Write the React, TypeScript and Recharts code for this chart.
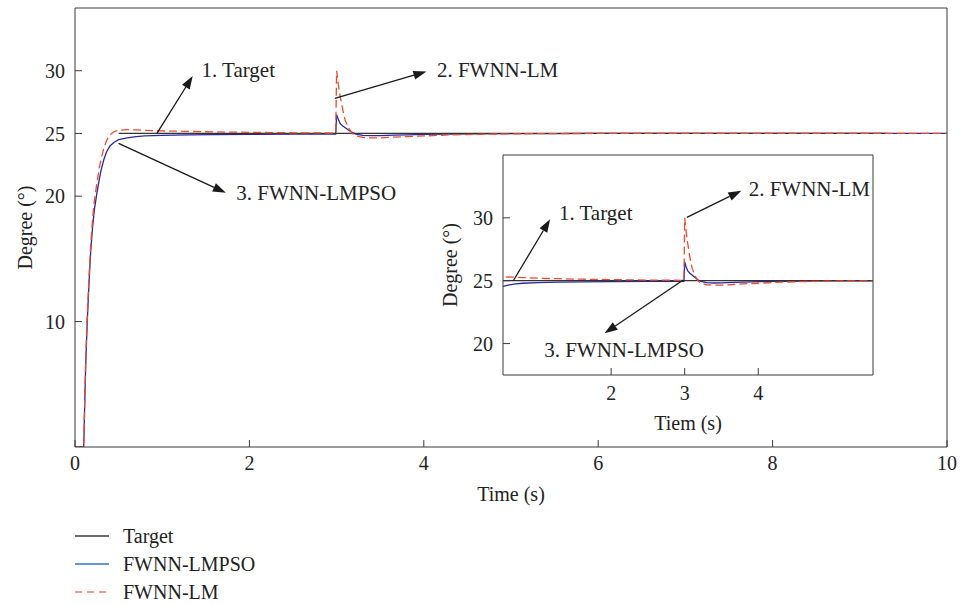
import { LineChart, Line, XAxis, YAxis, ReferenceLine, ReferenceDot } from "recharts";

// time axis (s) and the three responses (degree)
const timeS = [
  0, 0.1, 0.11, 0.12, 0.13, 0.14, 0.16, 0.18, 0.2, 0.22, 0.25, 0.28, 0.3, 0.33, 0.36, 0.4, 0.45,
  0.5, 0.6, 0.7, 0.8, 1.0, 1.3, 1.6, 2.0, 2.5, 2.99, 3.0, 3.02, 3.04, 3.07, 3.1, 3.14, 3.18, 3.22,
  3.3, 3.4, 3.5, 3.65, 3.8, 4.0, 4.3, 4.6, 5.0, 5.5, 6, 7, 8, 9, 9.3, 10,
];
const targetDeg = [
  null, null, null, null, null, null, null, null, null, null, null, null, null, null, null, null, null,
  25, 25, 25, 25, 25, 25, 25, 25, 25, 25, 25, 25, 25, 25, 25, 25, 25, 25,
  25, 25, 25, 25, 25, 25, 25, 25, 25, 25, 25, 25, 25, 25, 25, null,
];
const lmpsoDeg = [
  0, 0, 3, 5.8, 8, 9.9, 13, 15.6, 17.4, 18.8, 20.2, 21.4, 22.1, 22.9, 23.5, 24, 24.3,
  24.5, 24.65, 24.75, 24.8, 24.85, 24.88, 24.9, 24.92, 24.94, 24.95, 26.5, 26.1, 25.8, 25.6, 25.45, 25.25, 25.08, 24.95,
  24.85, 24.82, 24.83, 24.86, 24.89, 24.92, 24.95, 24.97, 24.98, 24.99, 25, 25, 25, 25, 25, 25,
];
const lmDeg = [
  0, 0, 3.2, 6.1, 8.4, 10.3, 13.5, 16.1, 18, 19.5, 21, 22.3, 23, 23.8, 24.4, 24.9, 25.15,
  25.25, 25.3, 25.28, 25.25, 25.2, 25.16, 25.12, 25.09, 25.05, 25.03, 30, 28.9, 28, 26.9, 26, 25.4, 25, 24.8,
  24.68, 24.65, 24.65, 24.7, 24.75, 24.8, 24.88, 24.93, 24.97, 24.99, 25, 25, 25, 25, 25, 25,
];

const mainXTicks = [0, 2, 4, 6, 8, 10];
const mainYTicks = [10, 20, 25, 30];
const insetXTicks = [2, 3, 4];
const insetYTicks = [20, 25, 30];

const data = timeS.map((t, i) => ({ t, target: targetDeg[i], lmpso: lmpsoDeg[i], lm: lmDeg[i] }));

// annotation arrows: [t, deg] pairs
const mainNotes = [
  { text: "1. Target", from: [0.94, 25], to: [1.35, 29.58], at: [1.45, 30.06] },
  { text: "2. FWNN-LM", from: [2.98, 27.8], to: [4.03, 29.93], at: [4.15, 30.06] },
  { text: "3. FWNN-LMPSO", from: [0.5, 24.21], to: [1.73, 20.27], at: [1.85, 20.23] },
];
const insetNotes = [
  { text: "1. Target", from: [0.67, 25], to: [1.17, 29.88], at: [1.29, 30.36] },
  { text: "2. FWNN-LM", from: [3.03, 30.04], to: [3.77, 32.16], at: [3.87, 32.27] },
  { text: "3. FWNN-LMPSO", from: [2.98, 25.06], to: [1.91, 20.82], at: [1.09, 19.49] },
];

const legendItems = [
  { name: "Target", color: "#3a3a3a", dash: undefined },
  { name: "FWNN-LMPSO", color: "#2f74c0", dash: undefined },
  { name: "FWNN-LM", color: "#ef7b66", dash: "7 5" },
];

const AXIS = "#3a3a3a";
const TXT = "#222";
const FONT = "'Liberation Serif', 'Times New Roman', serif";

const arrowShape = (p: any) => {
  const { x1, y1, x2, y2 } = p;
  const a = Math.atan2(y2 - y1, x2 - x1);
  const L = 13;
  const W = 4.5;
  const bx = x2 - L * Math.cos(a);
  const by = y2 - L * Math.sin(a);
  const pts = `${x2},${y2} ${bx + W * Math.sin(a)},${by - W * Math.cos(a)} ${bx - W * Math.sin(a)},${by + W * Math.cos(a)}`;
  return (
    <g>
      <line x1={x1} y1={y1} x2={bx} y2={by} stroke="#1a1a1a" strokeWidth={1.3} />
      <polygon points={pts} fill="#1a1a1a" />
    </g>
  );
};

const noteText = (text: string) => (p: any) => (
  <text x={p.cx} y={p.cy} fontSize={21} fill={TXT} dominantBaseline="central" fontFamily={FONT}>
    {text}
  </text>
);

const yTitle = (dx: number) => ({ viewBox }: any) => {
  const x = viewBox.x + dx;
  const y = viewBox.y + viewBox.height / 2;
  return (
    <text x={x} y={y} transform={`rotate(-90 ${x} ${y})`} textAnchor="middle" dominantBaseline="central" fontSize={20} fill={TXT} fontFamily={FONT}>
      Degree (°)
    </text>
  );
};

const xTitle = (text: string, dy: number) => ({ viewBox }: any) => (
  <text x={viewBox.x + viewBox.width / 2} y={viewBox.y + dy} textAnchor="middle" dominantBaseline="central" fontSize={20} fill={TXT} fontFamily={FONT}>
    {text}
  </text>
);

function renderLines() {
  return [
    <Line key="lmpso" dataKey="lmpso" stroke="#2828a0" strokeWidth={1.3} dot={false} isAnimationActive={false} />,
    <Line key="target" dataKey="target" stroke="#333" strokeWidth={1.2} dot={false} isAnimationActive={false} />,
    <Line key="lm" dataKey="lm" stroke="#f04a2a" strokeWidth={1.3} strokeDasharray="8 4" dot={false} isAnimationActive={false} />,
  ];
}

function renderNotes(notes: typeof mainNotes) {
  return notes.flatMap((n, i) => [
    <ReferenceLine
      key={`a${i}`}
      segment={[{ x: n.from[0], y: n.from[1] }, { x: n.to[0], y: n.to[1] }]}
      shape={arrowShape}
    />,
    <ReferenceDot key={`t${i}`} x={n.at[0]} y={n.at[1]} shape={noteText(n.text)} />,
  ]);
}

// box axes (top / right) with inward tick marks and no labels
function boxAxes(xDomain: number[], xTicks: number[], yDomain: number[], yTicks: number[]) {
  return [
    <XAxis
      key="top"
      xAxisId="top"
      orientation="top"
      type="number"
      domain={xDomain}
      ticks={xTicks}
      allowDataOverflow
      height={1}
      tickSize={-7}
      tick={false}
      axisLine={{ stroke: AXIS }}
      tickLine={{ stroke: AXIS }}
    />,
    <YAxis
      key="right"
      yAxisId="right"
      orientation="right"
      type="number"
      domain={yDomain}
      ticks={yTicks}
      allowDataOverflow
      width={1}
      tickSize={-7}
      tick={false}
      axisLine={{ stroke: AXIS }}
      tickLine={{ stroke: AXIS }}
    />,
  ];
}

export default function App() {
  const tickStyle = { fontSize: 20, fill: TXT, fontFamily: FONT };
  return (
    <div style={{ position: "fixed", left: 0, top: 0, width: 960, height: 605, fontFamily: FONT, background: "#fff" }}>
      <LineChart width={960} height={520} data={data} margin={{ top: 7, right: 12, bottom: 13, left: 0 }}>
        <XAxis
          dataKey="t"
          type="number"
          domain={[0, 10]}
          ticks={mainXTicks}
          allowDataOverflow
          height={60}
          tickSize={-7}
          tickMargin={16}
          tick={tickStyle}
          axisLine={{ stroke: AXIS }}
          tickLine={{ stroke: AXIS }}
          label={xTitle("Time (s)", 47)}
        />
        <YAxis
          type="number"
          domain={[0, 35]}
          ticks={mainYTicks}
          allowDataOverflow
          width={75}
          tickSize={-7}
          tickMargin={17}
          tick={tickStyle}
          axisLine={{ stroke: AXIS }}
          tickLine={{ stroke: AXIS }}
          label={yTitle(25)}
        />
        {boxAxes([0, 10], mainXTicks, [0, 35], mainYTicks)}
        {renderLines()}
        {renderNotes(mainNotes)}
      </LineChart>

      <div style={{ position: "absolute", left: 420, top: 150 }}>
        <LineChart width={470} height={300} data={data} margin={{ top: 4, right: 16, bottom: 10, left: 0 }}>
          <XAxis
            dataKey="t"
            type="number"
            domain={[0.53, 5.56]}
            ticks={insetXTicks}
            allowDataOverflow
            height={65}
            tickSize={-7}
            tickMargin={18}
            tick={tickStyle}
            axisLine={{ stroke: AXIS }}
            tickLine={{ stroke: AXIS }}
            label={xTitle("Tiem (s)", 48)}
          />
          <YAxis
            type="number"
            domain={[17.5, 35]}
            ticks={insetYTicks}
            allowDataOverflow
            width={83}
            tickSize={-7}
            tickMargin={17}
            tick={tickStyle}
            axisLine={{ stroke: AXIS }}
            tickLine={{ stroke: AXIS }}
            label={yTitle(30)}
          />
          {boxAxes([0.53, 5.56], insetXTicks, [17.5, 35], insetYTicks)}
          {renderLines()}
          {renderNotes(insetNotes)}
        </LineChart>
      </div>

      <svg width={300} height={85} style={{ position: "absolute", left: 0, top: 520 }}>
        {legendItems.map((it, i) => {
          const y = 16 + i * 28;
          return (
            <g key={it.name}>
              <line x1={75} x2={109} y1={y} y2={y} stroke={it.color} strokeWidth={1.5} strokeDasharray={it.dash} />
              <text x={123} y={y} fontSize={20} fill={TXT} dominantBaseline="central" fontFamily={FONT}>
                {it.name}
              </text>
            </g>
          );
        })}
      </svg>
    </div>
  );
}
